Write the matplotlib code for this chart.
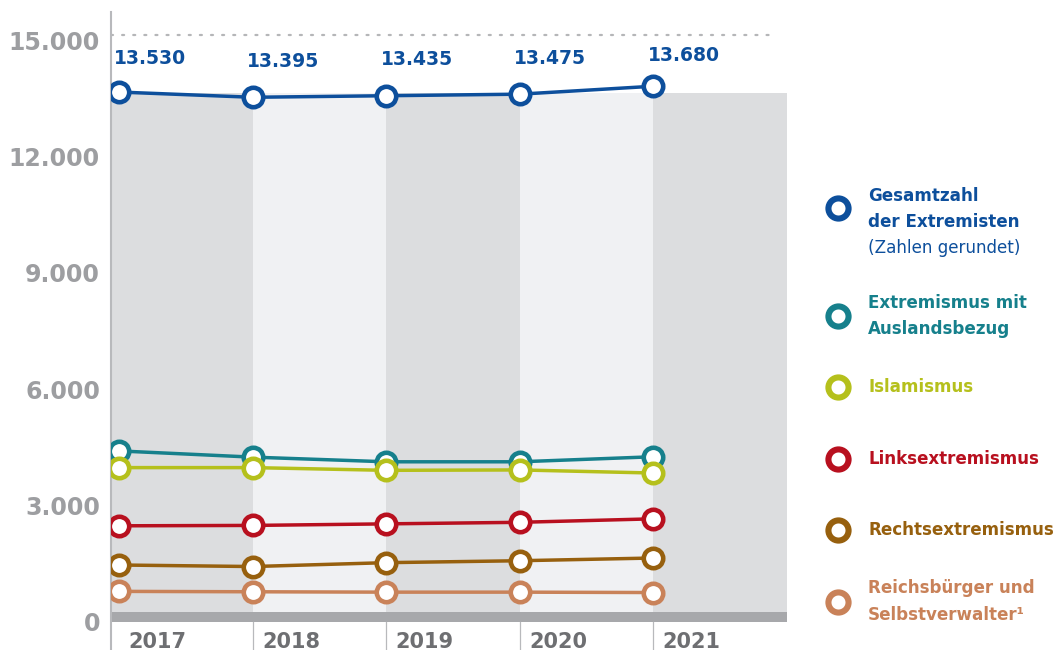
import matplotlib
matplotlib.use("Agg")
import matplotlib.pyplot as plt
from matplotlib.lines import Line2D
from matplotlib.transforms import ScaledTranslation

plt.rcParams['font.family'] = ['DejaVu Sans']

years = ["2017", "2018", "2019", "2020", "2021"]
gesamt = [13530, 13395, 13435, 13475, 13680]
gesamt_labels = ["13.530", "13.395", "13.435", "13.475", "13.680"]
ausland = [4280, 4120, 4000, 4000, 4130]
islam = [3850, 3850, 3780, 3790, 3710]
links = [2350, 2360, 2400, 2440, 2530]
rechts = [1340, 1300, 1400, 1450, 1520]
reichs = [660, 650, 640, 640, 630]
yticks = [0, 3000, 6000, 9000, 12000, 15000]
ytick_labels = ["0", "3.000", "6.000", "9.000", "12.000", "15.000"]

series = [
    (gesamt, "#0d4f9c"),
    (ausland, "#16808c"),
    (islam, "#b5c01c"),
    (links, "#b8101f"),
    (rechts, "#97600e"),
    (reichs, "#c98259"),
]

W, H = 1063, 650
fig = plt.figure(figsize=(W / 100, H / 100), dpi=100)
ax = fig.add_axes([111 / W, 0, 676 / W, 1 - 12 / H])
ax.set_xlim(-0.06, 5.0)
ax.set_ylim(-851, 15593)

# bands
band_top = 13500
bar_half = 130
band_cols = ["#dcdddf", "#f0f1f3"]
for i in range(len(years)):
    left = -0.06 if i == 0 else i
    ax.fill_between([left, i + 1], bar_half, band_top, color=band_cols[i % 2], lw=0, zorder=0)
ax.fill_between([-0.06, 5.0], -bar_half, bar_half, color="#a7a8ab", lw=0, zorder=1)

# separators below bar
for i in range(1, len(years)):
    ax.plot([i, i], [-bar_half, -851], color="#b8b9bc", lw=0.9, zorder=1)

# dotted 15000 line
ax.plot([-0.06, 4.87], [15000, 15000], color="#b5b6b8", lw=1.6,
        dashes=(0.9, 4.1), dash_capstyle='round', zorder=1)

xs = list(range(len(years)))
for vals, col in series:
    ax.plot(xs, vals, color=col, lw=2.5, zorder=3, solid_capstyle='butt')
    ax.plot(xs, vals, ls='none', marker='o', ms=14, mew=3.3,
            mfc='white', mec=col, zorder=4)

# data labels for Gesamtzahl
offs = [34, 36, 36, 36, 31]
for x, v, lab, o in zip(xs, gesamt, gesamt_labels, offs):
    ax.annotate(lab, (x, v), xytext=(-4, o * 0.72), textcoords='offset points',
                ha='left', va='center', fontsize=13.5, fontweight='bold',
                color="#0d4f9c", zorder=5)

# year labels
for x, y in zip(xs, years):
    ax.text(x + 0.07, -635, y, ha='left', va='center', fontsize=15,
            fontweight='bold', color="#6e6f72")

# axes styling
for s in ['top', 'right', 'bottom']:
    ax.spines[s].set_visible(False)
ax.spines['left'].set_color("#b8b9bc")
ax.spines['left'].set_linewidth(1.5)
ax.set_xticks([])
ax.set_yticks(yticks)
ax.set_yticklabels(ytick_labels)
ax.tick_params(axis='y', length=0, pad=8, labelsize=17, labelcolor="#9d9ea1")
off = ScaledTranslation(0, -5 / 72 * 0.72, fig.dpi_scale_trans)
for t in ax.get_yticklabels():
    t.set_fontweight('bold')
    t.set_transform(t.get_transform() + off)

# legend
def fx(px):
    return px / W

def fy(py):
    return 1 - py / H

legend = [
    ("#0d4f9c", 208, [("Gesamtzahl", 'bold', 196), ("der Extremisten", 'bold', 222),
                      ("(Zahlen gerundet)", 'normal', 248)]),
    ("#16808c", 316, [("Extremismus mit", 'bold', 303), ("Auslandsbezug", 'bold', 329)]),
    ("#b5c01c", 387, [("Islamismus", 'bold', 387)]),
    ("#b8101f", 459, [("Linksextremismus", 'bold', 459)]),
    ("#97600e", 530, [("Rechtsextremismus", 'bold', 530)]),
    ("#c98259", 602, [("Reichsbürger und", 'bold', 588), ("Selbstverwalter¹", 'bold', 615)]),
]
for col, my, lines in legend:
    fig.add_artist(Line2D([fx(838)], [fy(my)], transform=fig.transFigure,
                          marker='o', ms=14.5, mew=4.4, mfc='white', mec=col, ls='none'))
    for txt, wt, ly in lines:
        fig.text(fx(868), fy(ly), txt, ha='left', va='center', fontsize=12.1,
                 fontweight=wt, color=col)

fig.savefig("out.png", dpi=100)
